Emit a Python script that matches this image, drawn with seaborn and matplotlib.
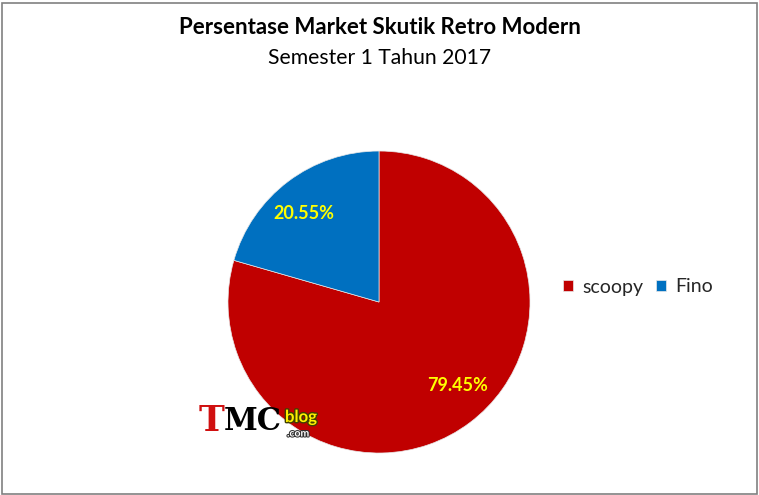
import matplotlib
matplotlib.use("Agg")
import matplotlib.pyplot as plt
import matplotlib.patheffects as pe
import seaborn as sns

categories = ["scoopy", "Fino"]
values = [79.45, 20.55]
colors = ["#C00000", "#0070C0"]
title = "Persentase Market Skutik Retro Modern"
subtitle = "Semester 1 Tahun 2017"

sns.set_style("white")
plt.rcParams["font.family"] = ["Lato", "DejaVu Sans"]

fig = plt.figure(figsize=(7.59, 4.95), dpi=100)
fig.patch.set_facecolor("white")

ax = fig.add_axes([0.3004, 0.0848, 0.3979, 0.6101])
wedges, texts, autotexts = ax.pie(
    values, colors=colors, startangle=90, counterclock=False,
    autopct=lambda p: f"{p:.2f}%", pctdistance=0.76,
    wedgeprops=dict(linewidth=0.5, edgecolor="#E8E8E8"),
    textprops=dict(color="#FFFF00", fontsize=13, fontweight="bold"),
)
ax.set_aspect("equal")
ax.set_xlim(-1, 1)
ax.set_ylim(-1, 1)
# Excel-style "best fit" label placement
autotexts[0].set_position((0.517, -0.550))
autotexts[1].set_position((-0.497, 0.583))

fig.text(0.5, 1 - 28 / 495, title, ha="center", va="center",
         fontsize=16, fontweight="bold", color="black")
fig.text(0.5, 1 - 58 / 495, subtitle, ha="center", va="center",
         fontsize=15.2, color="black")

leg = fig.legend(wedges, categories, loc="center left",
                 bbox_to_anchor=(545 / 759, 1 - 287 / 495), ncol=2,
                 frameon=False, fontsize=14, handlelength=0.55, handleheight=0.55,
                 handletextpad=0.45, columnspacing=0.65)

# watermark logo approximation
fig.text(199 / 759, 1 - 421 / 495, "T", color="#D01010", fontsize=25,
         fontweight="bold", va="center", ha="left", family=["DejaVu Serif"])
fig.text(224 / 759, 1 - 421 / 495, "MC", color="black", fontsize=22,
         fontweight="bold", va="center", ha="left", family=["DejaVu Serif"])
fig.text(285 / 759, 1 - 417 / 495, "blog", color="#FFF000", fontsize=12,
         fontweight="bold", va="center", ha="left",
         path_effects=[pe.withStroke(linewidth=2, foreground="#404000")])
fig.text(287 / 759, 1 - 434 / 495, ".com", color="white", fontsize=7.5,
         fontweight="bold", va="center", ha="left",
         path_effects=[pe.withStroke(linewidth=1.5, foreground="#303030")])

# outer border
fig.add_artist(plt.Rectangle((1.5 / 759, 1.5 / 495), 755 / 759, 491 / 495,
                             transform=fig.transFigure, fill=False,
                             edgecolor="#808080", linewidth=1.2))

fig.savefig("out.png", dpi=100)
